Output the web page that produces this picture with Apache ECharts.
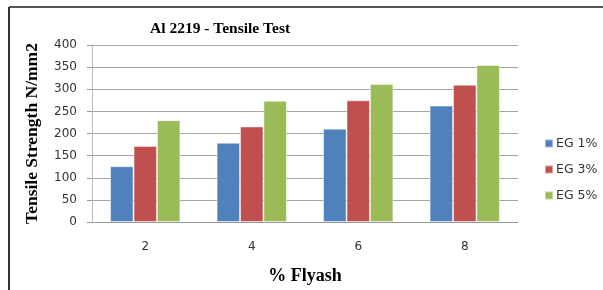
<!DOCTYPE html>
<html>
<head>
<meta charset="utf-8">
<script src="https://cdn.jsdelivr.net/npm/echarts@6/dist/echarts.min.js"></script>
<style>
  html, body { margin: 0; padding: 0; background: #fff; }
  #chart { width: 603px; height: 290px; }
</style>
</head>
<body>
<div id="chart"></div>
<script>
const flyash = ['2', '4', '6', '8']
const eg1 = [126, 179, 211, 263]
const eg3 = [172, 216, 275, 310]
const eg5 = [230, 274, 312, 355]

const serif = '"Liberation Serif", "DejaVu Serif", serif'
const sans = '"DejaVu Sans", "Liberation Sans", sans-serif'

const chart = echarts.init(document.getElementById('chart'))

const barSeries = (name, data, color) => ({
  name,
  type: 'bar',
  data,
  barGap: 0,
  barCategoryGap: '34%',
  itemStyle: {
    color,
    borderColor: 'rgba(255,255,255,0.45)',
    borderWidth: 1
  }
})

chart.setOption({
  backgroundColor: '#fff',
  animation: false,
  title: {
    text: 'Al 2219 - Tensile Test',
    left: 145,
    top: 16,
    textStyle: {
      fontFamily: serif,
      fontWeight: 'bold',
      fontSize: 15.5,
      color: '#000'
    }
  },
  legend: {
    orient: 'vertical',
    left: 539,
    top: 132,
    itemWidth: 8,
    itemHeight: 8,
    itemGap: 13,
    icon: 'rect',
    textStyle: {
      fontFamily: sans,
      fontSize: 12.5,
      color: '#333',
      padding: [0, 0, 0, -2]
    },
    data: ['EG 1%', 'EG 3%', 'EG 5%']
  },
  grid: {
    left: 92,
    right: 85,
    top: 45,
    bottom: 68
  },
  xAxis: {
    type: 'category',
    data: flyash,
    name: '% Flyash',
    nameLocation: 'middle',
    nameGap: 45,
    nameTextStyle: {
      fontFamily: serif,
      fontWeight: 'bold',
      fontSize: 18,
      color: '#000'
    },
    axisLine: { lineStyle: { color: '#999' } },
    axisTick: { show: false },
    axisLabel: {
      margin: 19,
      fontFamily: sans,
      fontSize: 12,
      color: '#333'
    }
  },
  yAxis: {
    type: 'value',
    min: 0,
    max: 400,
    interval: 50,
    name: 'Tensile Strength N/mm2',
    nameLocation: 'middle',
    nameGap: 51,
    nameTextStyle: {
      fontFamily: serif,
      fontWeight: 'bold',
      fontSize: 17.5,
      color: '#000'
    },
    axisLine: { show: true, lineStyle: { color: '#bbb' } },
    axisTick: { show: true, length: 5, lineStyle: { color: '#999' } },
    splitLine: { lineStyle: { color: '#a6a6a6' } },
    axisLabel: {
      margin: 15,
      fontFamily: sans,
      fontSize: 12,
      color: '#333'
    }
  },
  series: [
    barSeries('EG 1%', eg1, '#4f81bd'),
    barSeries('EG 3%', eg3, '#c0504d'),
    barSeries('EG 5%', eg5, '#9bbb59')
  ],
  graphic: [
    {
      type: 'line',
      shape: { x1: 9, y1: 7, x2: 603, y2: 7 },
      style: { stroke: '#555', lineWidth: 2 }
    },
    {
      type: 'line',
      shape: { x1: 9, y1: 7, x2: 9, y2: 290 },
      style: { stroke: '#333', lineWidth: 2 }
    }
  ]
})
</script>
</body>
</html>
